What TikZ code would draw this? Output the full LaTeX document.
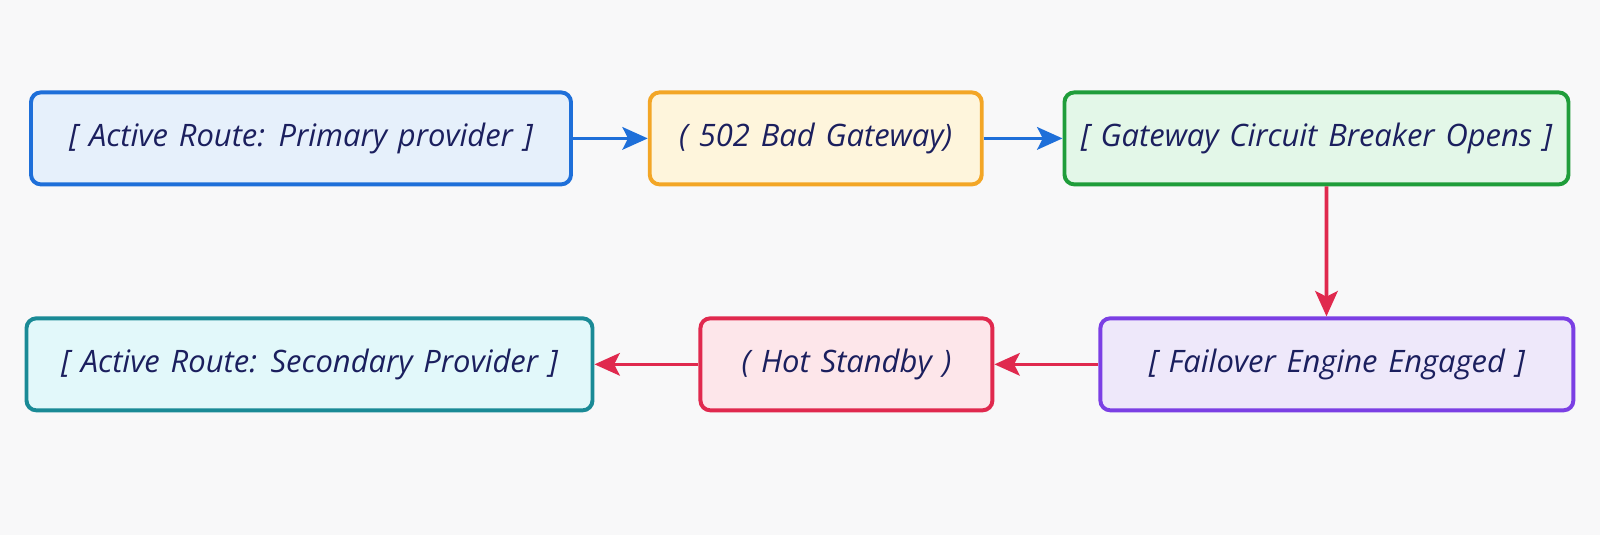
\documentclass[tikz,border=0pt]{standalone}
\usepackage{fontspec}
\setmainfont{Open Sans}[WordSpace=1.35]
\usepackage{tikz}
\usetikzlibrary{arrows.meta,calc,positioning}
\definecolor{pagebg}{HTML}{F8F8F9}
\definecolor{inktext}{HTML}{1B1F5E}
\definecolor{routeblue}{HTML}{1E6FD9}
\definecolor{routebluesoft}{HTML}{E6F0FB}
\definecolor{gateamber}{HTML}{F3A626}
\definecolor{gateambersoft}{HTML}{FEF5DC}
\definecolor{breakgreen}{HTML}{1F9D3A}
\definecolor{breakgreensoft}{HTML}{E3F7E8}
\definecolor{enginepurple}{HTML}{7B3FE4}
\definecolor{enginepurplesoft}{HTML}{EEE8FA}
\definecolor{standbyred}{HTML}{E0294E}
\definecolor{standbyredsoft}{HTML}{FDE6EA}
\definecolor{secondteal}{HTML}{1A8A96}
\definecolor{secondtealsoft}{HTML}{E2F8FA}
\tikzset{
  routebox/.style={
    draw=routeblue,
    fill=routebluesoft,
    text=inktext,
    rounded corners=7pt,
    line width=2.8pt,
    align=center,
    minimum height=2.3cm,
    inner sep=4pt,
    font=\fontsize{22}{26}\selectfont\itshape
  },
  flowarrow/.style={-{Stealth[length=18pt,width=16pt,inset=4pt]}, line width=2.6pt, draw=routeblue},
  failarrow/.style={flowarrow, draw=standbyred}
}
\begin{document}
\begin{tikzpicture}[
  node distance=2cm and 2cm,
  primaryBox/.style={routebox, minimum width=13.5cm},
  errorBox/.style={routebox, minimum width=8.3cm, draw=gateamber, fill=gateambersoft},
  breakerBox/.style={routebox, minimum width=12.6cm, draw=breakgreen, fill=breakgreensoft},
  engineBox/.style={routebox, minimum width=11.825cm, draw=enginepurple, fill=enginepurplesoft},
  standbyBox/.style={routebox, minimum width=7.3cm, draw=standbyred, fill=standbyredsoft},
  secondaryBox/.style={routebox, minimum width=14.15cm, draw=secondteal, fill=secondtealsoft}
]
  \fill[pagebg] (0,0) rectangle (40,-13.375);
  \useasboundingbox (0,0) rectangle (40,-13.375);

  \node[primaryBox] (primary) at (7.525,-3.46) {[ Active Route: Primary provider ]};
  \node[errorBox, right=1.87cm of primary] (badgw) {( 502 Bad Gateway)};
  \node[breakerBox, right=1.97cm of badgw] (breaker) {[ Gateway Circuit Breaker Opens ]};
  \node[engineBox, below=3.25cm of breaker, xshift=0.51cm] (engine) {[ Failover Engine Engaged ]};
  \node[standbyBox, left=2.6cm of engine] (standby) {( Hot Standby )};
  \node[secondaryBox, left=2.6cm of standby] (secondary) {[ Active Route: Secondary Provider ]};

  \draw[flowarrow] (primary) -- (badgw);
  \draw[flowarrow] (badgw) -- (breaker);
  \draw[failarrow] ($(breaker.south)+(0.25,0)$) -- ($(engine.north)+(-0.26,0)$);
  \draw[failarrow] (engine) -- (standby);
  \draw[failarrow] (standby) -- (secondary);
\end{tikzpicture}
\end{document}
